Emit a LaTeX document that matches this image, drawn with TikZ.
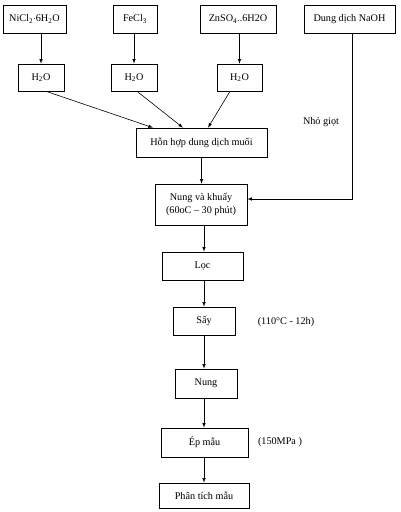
\documentclass[tikz,border=0pt]{standalone}
\usepackage{fontspec}
\setmainfont{Liberation Serif}
\usepackage{tikz}
\usetikzlibrary{arrows,positioning}

\begin{document}
\begin{tikzpicture}[x=1pt,y=-1pt,>=latex,line width=0.6pt]
\tikzstyle{plain}=[draw, inner sep=1pt, font=\fontsize{10.2}{12.5}\selectfont, align=center]
\tikzstyle{note}=[inner sep=0pt, font=\fontsize{10.2}{12.5}\selectfont]
\useasboundingbox (0,0) rectangle (400,512);
\draw node at (34.5,19) [plain,minimum width=63pt,minimum height=28pt] (NiCl) {NiCl\textsubscript{2}$\cdot$6H\textsubscript{2}O};
\draw node at (135,19) [plain,minimum width=44pt,minimum height=28pt] (FeCl) {FeCl\textsubscript{3}};
\draw node at (238,19) [plain,minimum width=76pt,minimum height=28pt] (ZnSO) {ZnSO\textsubscript{4}..6H2O};
\draw node at (349.5,19) [plain,minimum width=91pt,minimum height=28pt] (NaOH) {Dung dịch NaOH};

\draw node at (41,77.5) [plain,minimum width=46pt,minimum height=27pt] (WaterA) {H\textsubscript{2}O};
\draw node at (134,77.5) [plain,minimum width=46pt,minimum height=27pt] (WaterB) {H\textsubscript{2}O};
\draw node at (239.5,77.5) [plain,minimum width=45pt,minimum height=27pt] (WaterC) {H\textsubscript{2}O};

\draw node at (201.5,142.5) [plain,minimum width=131pt,minimum height=29pt] (Mix) {Hỗn hợp dung dịch muối};
\draw node at (201,204.5) [plain,minimum width=92pt,minimum height=41pt] (Stir) {Nung và khuấy\\(60oC -- 30 phút)};
\draw node at (202.5,266) [plain,minimum width=81pt,minimum height=28pt] (Filter) {Lọc};
\draw node at (204,321) [plain,minimum width=62pt,minimum height=28pt] (Dry) {Sấy};
\draw node at (206,383.5) [plain,minimum width=62pt,minimum height=29pt] (Calcine) {Nung};
\draw node at (204.5,442.5) [plain,minimum width=87pt,minimum height=29pt] (Press) {Ép mẫu};
\draw node at (204,495.5) [plain,minimum width=90pt,minimum height=25pt] (Analysis) {Phân tích mẫu};

\draw node at (321,122) [note] (Drop) {Nhỏ giọt};
\draw node at (286,322) [note] (DryCond) {(110\textdegree C - 12h)};
\draw node at (280,442) [note] (PressCond) {(150MPa )};

\draw [->] (NiCl.south -| WaterA.north) -- (WaterA.north);
\draw [->] (FeCl.south -| WaterB.north) -- (WaterB.north);
\draw [->] (ZnSO.south -| WaterC.north) -- (WaterC.north);

\draw [->] ([xshift=5pt]WaterA.south) -- ([xshift=-48.5pt]Mix.north);
\draw [->] ([xshift=3pt]WaterB.south) -- ([xshift=-18.5pt]Mix.north);
\draw [->] ([xshift=-9.5pt]WaterC.south) -- ([xshift=6.5pt]Mix.north);

\draw [->] (Mix.south) -- (Mix.south |- Stir.north);
\draw [->] ([xshift=2.5pt]NaOH.south) |- ([yshift=5.5pt]Stir.east);
\draw [->] ([xshift=3pt]Stir.south) -- ([xshift=3pt]Stir.south |- Filter.north);
\draw [->] ([xshift=1.5pt]Filter.south) -- ([xshift=1.5pt]Filter.south |- Dry.north);
\draw [->] (Dry.south) -- (Dry.south |- Calcine.north);
\draw [->] ([xshift=-2pt]Calcine.south) -- ([xshift=-2pt]Calcine.south |- Press.north);
\draw [->] ([xshift=-0.5pt]Press.south) -- ([xshift=-0.5pt]Press.south |- Analysis.north);
\end{tikzpicture}
\end{document}
